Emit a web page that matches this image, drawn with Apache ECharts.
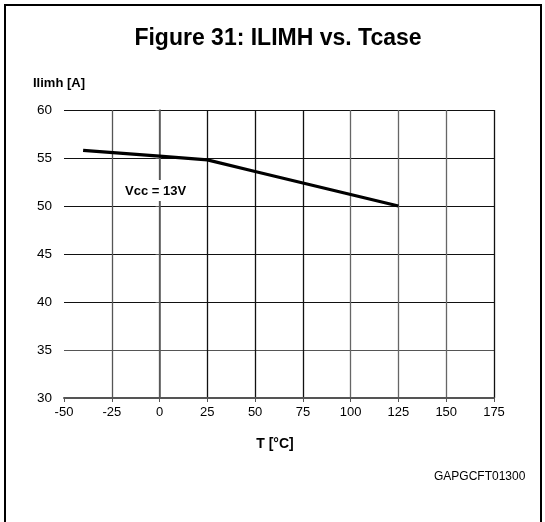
<!DOCTYPE html>
<html><head><meta charset="utf-8">
<script src="https://cdn.jsdelivr.net/npm/echarts@6/dist/echarts.min.js"></script>
<style>html,body{margin:0;padding:0;background:#fff}#c{width:545px;height:522px}</style>
</head><body><div id="c"></div>
<script>
const temps = [-40, 0, 25, 50, 75, 100, 125];
const ilimh = [55.8, 55.2, 54.8, 53.6, 52.4, 51.2, 50.0];
const xTicks = [-50, -25, 0, 25, 50, 75, 100, 125, 150, 175];
const yTicks = [30, 35, 40, 45, 50, 55, 60];

const chart = echarts.init(document.getElementById('c'), null, {renderer: 'canvas'});
const F = 'Arial, "Liberation Sans", sans-serif';
chart.setOption({
  animation: false,
  backgroundColor: '#fff',
  title: {
    text: 'Figure 31: ILIMH vs. Tcase',
    left: 273, top: 22, textAlign: 'center',
    textStyle: {fontFamily: F, fontWeight: 'bold', fontSize: 23, color: '#000'}
  },
  grid: {left: 64, right: 51, top: 110, bottom: 124, containLabel: false},
  xAxis: {
    type: 'value', min: xTicks[0], max: xTicks[xTicks.length - 1], interval: 25,
    name: 'T [°C]', nameLocation: 'middle', nameGap: 39,
    nameTextStyle: {fontFamily: F, fontWeight: 'bold', fontSize: 14, color: '#000', padding: [0, 8, 0, 0]},
    axisLine: {show: true, onZero: false, lineStyle: {color: '#555', width: 2}},
    axisTick: {show: true, length: 4, lineStyle: {color: '#555'}},
    axisLabel: {margin: 8, fontFamily: F, fontSize: 13, color: '#000'},
    splitLine: {show: true, showMinLine: false, lineStyle: {width: 1.3, color: ['#555', '#666', '#111', '#111', '#111', '#666', '#666', '#666', '#111', '#c0c0c0']}}
  },
  yAxis: {
    type: 'value', min: yTicks[0], max: yTicks[yTicks.length - 1], interval: 5,
    axisLine: {show: true, lineStyle: {color: '#555', width: 1.5}},
    axisTick: {show: true, length: 4, lineStyle: {color: '#555'}},
    axisLabel: {margin: 12, fontFamily: F, fontSize: 13.5, color: '#000'},
    splitLine: {show: true, showMinLine: false, lineStyle: {width: 1.2, color: ['#555', '#111', '#111', '#111', '#111', '#111', '#c0c0c0']}}
  },
  series: [{
    type: 'line', data: temps.map((t, i) => [t, ilimh[i]]),
    showSymbol: false, symbol: 'none',
    lineStyle: {color: '#000', width: 3.2}, z: 5
  }],
  graphic: [
    {type: 'polyline', shape: {points: [[5, 522], [5, 5], [541, 5], [541, 522]]}, style: {stroke: '#000', lineWidth: 2, fill: null}},
    {type: 'text', left: 33, top: 77, style: {text: 'Ilimh [A]', font: 'bold 13px ' + F, fill: '#000'}},
    {type: 'text', left: 119, top: 180, z: 10,
      style: {text: 'Vcc = 13V', font: 'bold 13px ' + F, fill: '#000', backgroundColor: '#fff', padding: [5, 6, 3, 6]}},
    {type: 'text', left: 434, top: 471, style: {text: 'GAPGCFT01300', font: '12px ' + F, fill: '#000'}}
  ]
});
</script></body></html>
